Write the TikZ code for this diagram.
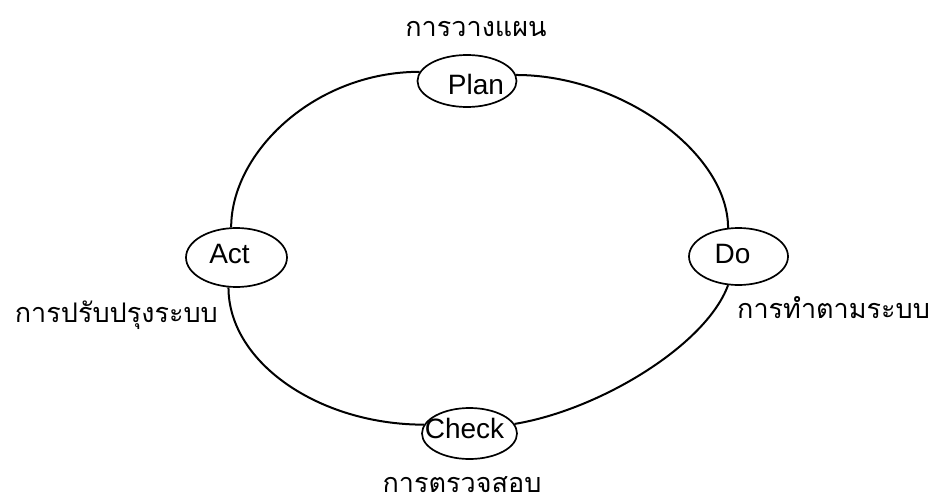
\documentclass[tikz,border=0pt]{standalone}
\usepackage{fontspec}
\setmainfont{Liberation Sans}
\newfontfamily\thaifont[Script=Thai]{Loma}
\usetikzlibrary{shapes.geometric}
\newcommand\ctrtext[3]{\raisebox{#2}[0pt][0pt]{\makebox[0pt]{\hspace*{#1}\hspace*{#1}#3}}}
\tikzset{
  phase/.style={ellipse, draw, line width=1.7pt, inner sep=0pt,
    font=\fontsize{28}{28}\selectfont},
  conn/.style={line width=2pt},
  thlabel/.style={font=\thaifont\fontsize{27}{27}\selectfont, inner sep=0pt},
}
\begin{document}
\begin{tikzpicture}[x=1pt,y=-1pt]
\useasboundingbox (0,0) rectangle (934,503);
\node[phase, minimum width=99pt, minimum height=52pt] (plan) at (467,81) {\ctrtext{9pt}{-14pt}{Plan}};
\node[phase, minimum width=101pt, minimum height=59pt] (act) at (236.5,257.5) {\ctrtext{-7pt}{-5.5pt}{Act}};
\node[phase, minimum width=99pt, minimum height=57pt] (do) at (738.5,256.5) {\ctrtext{-6pt}{-6.5pt}{Do}};
\node[phase, minimum width=95pt, minimum height=51pt] (check) at (469.5,433.5) {\ctrtext{-5pt}{-5pt}{Check}};
\draw[conn] (plan.169) .. controls +(-105,0) and +(0,-75) .. (act.100);
\draw[conn] (act.255) .. controls +(0,75) and +(-105,0) .. (check.169);
\draw[conn] (check.12) .. controls +(85,-14) and +(-22,60) .. (do.250);
\draw[conn] (do.110) .. controls +(0,-75) and +(105,0) .. (plan.7);
\node[thlabel, anchor=base] (planlbl) at (476,37) {การวางแผน};
\node[thlabel, anchor=base east] (actlbl) at (218,322) {การปรับปรุงระบบ};
\node[thlabel, anchor=base west] (dolbl) at (737,318) {การทำตามระบบ};
\node[thlabel, anchor=base] (checklbl) at (462,492) {การตรวจสอบ};
\end{tikzpicture}
\end{document}
